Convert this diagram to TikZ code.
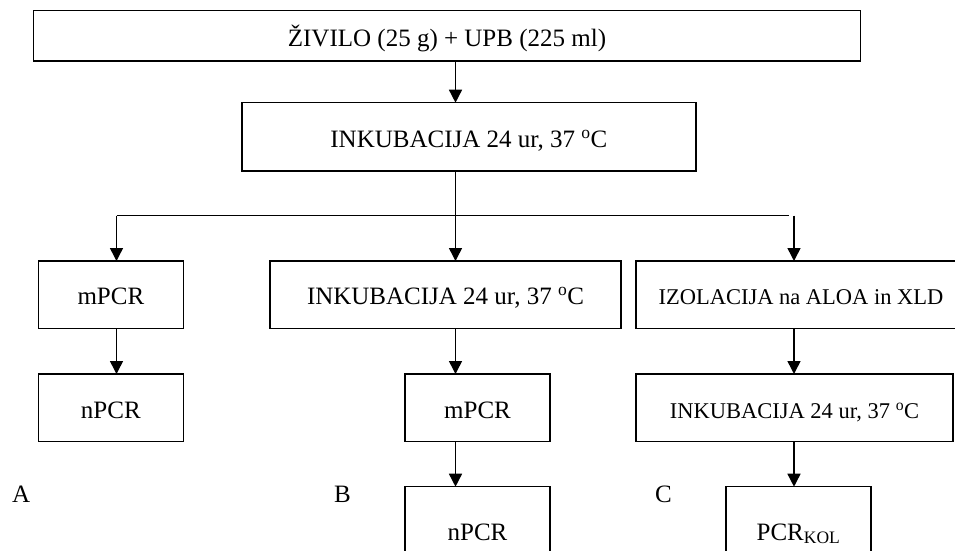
\documentclass[tikz,border=0pt]{standalone}
\usepackage{fontspec}
\setmainfont{Liberation Serif}
\usetikzlibrary{arrows.meta}
\begin{document}
\begin{tikzpicture}[x=1pt,y=-1pt,
  box/.style={draw,line width=1.5pt,rectangle,inner sep=0pt,outer sep=0pt,
    text height=20.5pt,text depth=0pt,font=\fontsize{25}{30}\selectfont},
  boxs/.style={box,font=\fontsize{22.5}{27}\selectfont},
  lab/.style={inner sep=0pt,anchor=base west,font=\fontsize{25}{30}\selectfont},
  arr/.style={line width=1.5pt,-{Triangle[width=13pt,length=13pt]}},
  ln/.style={line width=1.5pt}]
\useasboundingbox (0,0) rectangle (955,550);
\clip (0,0) rectangle (955,550);
\coordinate (colA) at (116.5,0);
\coordinate (colB) at (455.5,0);
\coordinate (colC) at (794,0);
\coordinate (hy) at (0,215.7);
\coordinate (hend) at (789,215.7);
\node[box,minimum width=827pt,minimum height=50.3pt] (top) at (447,35.85) {ŽIVILO (25 g) + UPB (225 ml)};
\node[box,minimum width=454.2pt,minimum height=68.3pt] (inc) at (468.9,136.85) {INKUBACIJA 24 ur, 37 \textsuperscript{o}C};
\node[box,minimum width=144.9pt,minimum height=67.3pt] (mA) at (110.85,294.65) {mPCR};
\node[box,minimum width=351.4pt,minimum height=67.3pt] (incB) at (445.5,294.65) {INKUBACIJA 24 ur, 37 \textsuperscript{o}C};
\node[boxs,minimum width=330pt,minimum height=67.3pt] (izoC) at (801,294.65) {IZOLACIJA na ALOA in XLD};
\node[box,minimum width=144.9pt,minimum height=67.7pt] (nA) at (110.85,407.85) {nPCR};
\node[box,minimum width=145pt,minimum height=67.7pt] (mB) at (477.5,407.85) {mPCR};
\node[boxs,minimum width=317pt,minimum height=67.7pt] (incC) at (794.5,407.85) {INKUBACIJA 24 ur, 37 \textsuperscript{o}C};
\node[box,minimum width=145pt,minimum height=86.3pt] (nB) at (477.5,529.85) {nPCR};
\node[box,minimum width=145pt,minimum height=86.3pt] (pcrC) at (798.5,529.85) {PCR\textsubscript{KOL}};
\node[lab] (la) at (12,502.5) {A};
\node[lab] (lb) at (334,502.5) {B};
\node[lab] (lc) at (655,502.5) {C};
% connectors
\draw[arr] (top.south -| colB) -- (inc.north -| colB);
\draw[arr] (inc.south -| colB) -- (incB.north -| colB);
\draw[ln] (hy -| colA) -- (hend);
\draw[arr] (hy -| colA) -- (mA.north -| colA);
\draw[arr] (hy -| colC) -- (izoC.north -| colC);
\draw[arr] (mA.south -| colA) -- (nA.north -| colA);
\draw[arr] (incB.south -| colB) -- (mB.north -| colB);
\draw[arr] (mB.south -| colB) -- (nB.north -| colB);
\draw[arr] (izoC.south -| colC) -- (incC.north -| colC);
\draw[arr] (incC.south -| colC) -- (pcrC.north -| colC);
\end{tikzpicture}
\end{document}
